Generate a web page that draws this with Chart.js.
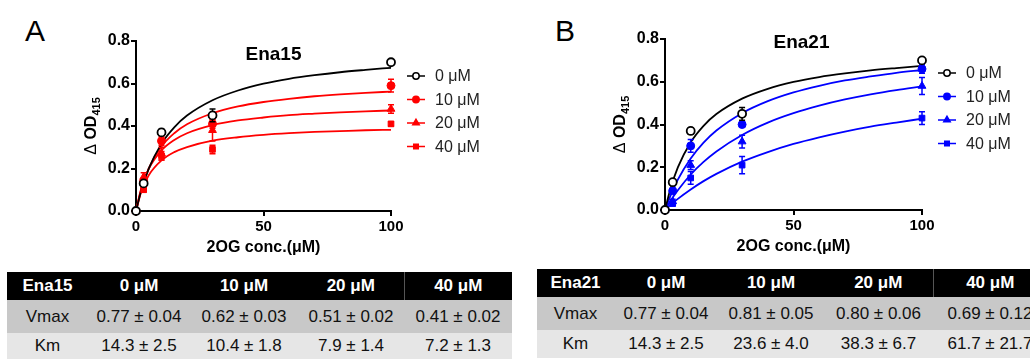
<!DOCTYPE html>
<html>
<head>
<meta charset="utf-8">
<script src="https://cdn.jsdelivr.net/npm/chart.js@4.4.1/dist/chart.umd.min.js"></script>
<style>
html, body { margin: 0; padding: 0; background: #fff; }
body { position: relative; width: 1030px; height: 359px; overflow: hidden; font-family: "Liberation Sans", Arial, sans-serif; }
.panel { position: absolute; top: 16px; font-size: 30px; line-height: 30px; color: #000; }
.box { position: absolute; top: 0; width: 515px; height: 262px; }
table { position: absolute; border-collapse: collapse; table-layout: fixed; font-size: 17px; }
th { background: #000; color: #fff; font-weight: bold; font-size: 17px; padding: 0; text-align: center; }
th + th.div { border-left: 1px solid #555; }
td { padding: 0; text-align: center; color: #111; }
tr.v td { background: #c8c8c8; }
tr.k td { background: #e6e6e6; }
</style>
</head>
<body>
<div class="panel" style="left:25px">A</div>
<div class="panel" style="left:555px">B</div>
<div class="box" style="left:0"><canvas id="chartA"></canvas></div>
<div class="box" style="left:515px"><canvas id="chartB"></canvas></div>
<table id="tabA" style="left:7px;top:272px;width:505px"></table>
<table id="tabB" style="left:537px;top:269px;width:510px"></table>

<script>
// ---- data ----
const concLabels = ['0 μM', '10 μM', '20 μM', '40 μM'];
const substrate = [0, 3, 10, 30, 100];            // 2OG conc. (μM)
const fitX = [0, 2, 5, 10, 15, 20, 30, 40, 50, 60, 70, 80, 90, 100];

// Ena15 measured points and error bars
const a0 = [0, 0.13, 0.37, 0.45, 0.70];
const a10 = [0, 0.14, 0.33, 0.41, 0.59];
const a20 = [0, 0.16, 0.27, 0.38, 0.48];
const a40 = [0, 0.10, 0.26, 0.29, 0.41];
const a0Err = [0, 0.01, 0.015, 0.03, 0.01];
const a10Err = [0, 0.01, 0.02, 0.02, 0.03];
const a20Err = [0, 0.02, 0.03, 0.05, 0.02];
const a40Err = [0, 0.01, 0.02, 0.02, 0.01];
// Ena15 fitted curves
const a0Fit = [0, 0.094, 0.199, 0.317, 0.394, 0.449, 0.521, 0.567, 0.599, 0.622, 0.639, 0.653, 0.664, 0.674];
const a10Fit = [0, 0.100, 0.201, 0.304, 0.366, 0.408, 0.460, 0.492, 0.513, 0.528, 0.540, 0.549, 0.556, 0.562];
const a20Fit = [0, 0.103, 0.198, 0.285, 0.334, 0.366, 0.404, 0.426, 0.440, 0.451, 0.458, 0.464, 0.469, 0.473];
const a40Fit = [0, 0.089, 0.168, 0.238, 0.277, 0.301, 0.331, 0.347, 0.358, 0.366, 0.372, 0.376, 0.380, 0.382];

// Ena21 measured points and error bars
const b0 = [0, 0.13, 0.37, 0.45, 0.70];
const b10 = [0, 0.09, 0.30, 0.40, 0.66];
const b20 = [0, 0.04, 0.21, 0.32, 0.58];
const b40 = [0, 0.03, 0.15, 0.21, 0.43];
const b0Err = [0, 0.01, 0.015, 0.03, 0.01];
const b10Err = [0, 0.01, 0.03, 0.01, 0.02];
const b20Err = [0, 0.01, 0.02, 0.03, 0.04];
const b40Err = [0, 0.01, 0.03, 0.04, 0.03];
// Ena21 fitted curves
const b0Fit = a0Fit;
const b10Fit = [0, 0.063, 0.142, 0.241, 0.315, 0.372, 0.453, 0.509, 0.550, 0.581, 0.606, 0.625, 0.642, 0.655];
const b20Fit = [0, 0.040, 0.092, 0.166, 0.225, 0.274, 0.351, 0.409, 0.453, 0.488, 0.517, 0.541, 0.561, 0.578];
const b40Fit = [0, 0.022, 0.052, 0.096, 0.135, 0.169, 0.226, 0.271, 0.309, 0.340, 0.367, 0.390, 0.409, 0.427];

// kinetic tables
const vmaxA = ['0.77 ± 0.04', '0.62 ± 0.03', '0.51 ± 0.02', '0.41 ± 0.02'];
const kmA = ['14.3 ± 2.5', '10.4 ± 1.8', '7.9 ± 1.4', '7.2 ± 1.3'];
const vmaxB = ['0.77 ± 0.04', '0.81 ± 0.05', '0.80 ± 0.06', '0.69 ± 0.12'];
const kmB = ['14.3 ± 2.5', '23.6 ± 4.0', '38.3 ± 6.7', '61.7 ± 21.7'];

const yTicks = [0, 0.2, 0.4, 0.6, 0.8];
const xTicks = [0, 50, 100];

const FONT = '"Liberation Sans", Arial, sans-serif';
const pointStyles = ['circle', 'circle', 'triangle', 'rect'];

const toXY = (xs, ys) => xs.map((x, i) => ({ x: x, y: ys[i] }));

// error bars, titles, y label with subscript, line+marker legend
const decor = {
  id: 'decor',
  beforeDatasetDraw(chart, args) {
    const ds = chart.data.datasets[args.index];
    if (!ds.err) return;
    const ctx = chart.ctx, ys = chart.scales.y;
    ctx.save();
    ctx.strokeStyle = ds.borderColor;
    ctx.lineWidth = 1.5;
    args.meta.data.forEach((pt, i) => {
      const e = ds.err[i];
      if (!e) return;
      const v = ds.data[i].y;
      const y1 = ys.getPixelForValue(v + e), y2 = ys.getPixelForValue(v - e);
      ctx.beginPath();
      ctx.moveTo(pt.x, y1); ctx.lineTo(pt.x, y2);
      ctx.moveTo(pt.x - 3, y1); ctx.lineTo(pt.x + 3, y1);
      ctx.moveTo(pt.x - 3, y2); ctx.lineTo(pt.x + 3, y2);
      ctx.stroke();
    });
    ctx.restore();
  },
  afterDraw(chart, args, o) {
    const ctx = chart.ctx, a = chart.chartArea;
    const cx = (a.left + a.right) / 2;
    ctx.save();
    ctx.fillStyle = '#000';
    ctx.textBaseline = 'middle';
    ctx.textAlign = 'center';
    ctx.font = 'bold 19px ' + FONT;
    ctx.fillText(o.title, cx + o.titleDx, a.top + o.titleDy);
    ctx.font = 'bold 16px ' + FONT;
    ctx.fillText('2OG conc.(μM)', cx, a.bottom + 37);

    // y axis title: Δ OD415
    ctx.save();
    ctx.translate(a.left - 45, (a.top + a.bottom) / 2);
    ctx.rotate(-Math.PI / 2);
    ctx.textAlign = 'left';
    ctx.textBaseline = 'alphabetic';
    const f1 = '16px ' + FONT, f2 = 'bold 16px ' + FONT, f3 = 'bold 11px ' + FONT;
    ctx.font = f1; const w1 = ctx.measureText('Δ ').width;
    ctx.font = f2; const w2 = ctx.measureText('OD').width;
    ctx.font = f3; const w3 = ctx.measureText('415').width;
    let x0 = -(w1 + w2 + w3) / 2;
    ctx.font = f1; ctx.fillText('Δ ', x0, 5);
    ctx.font = f2; ctx.fillText('OD', x0 + w1, 5);
    ctx.font = f3; ctx.fillText('415', x0 + w1 + w2, 9);
    ctx.restore();

    // legend
    let k = 0;
    chart.data.datasets.forEach(ds => {
      if (!ds.err) return;
      const ly = a.top + o.legendDy + k * 23.5;
      const lx = a.right + 16;
      ctx.strokeStyle = ds.borderColor;
      ctx.fillStyle = ds.backgroundColor;
      ctx.lineWidth = 1.5;
      ctx.beginPath(); ctx.moveTo(lx, ly); ctx.lineTo(lx + 18, ly); ctx.stroke();
      Chart.helpers.drawPoint(ctx, { pointStyle: ds.pointStyle, radius: ds.pointRadius - 0.8, rotation: 0, borderWidth: ds.pointBorderWidth || 1 }, lx + 9, ly);
      ctx.fillStyle = '#222';
      ctx.textAlign = 'left';
      ctx.textBaseline = 'middle';
      ctx.font = '16px ' + FONT;
      ctx.fillText(ds.label, a.right + 44, ly + 1);
      k++;
    });
    ctx.restore();
  }
};

function buildChart(id, color, points, errs, fits, o) {
  const datasets = [];
  const colors = ['#000', color, color, color];
  points.forEach((p, i) => {
    datasets.push({
      label: concLabels[i],
      data: toXY(substrate, p),
      err: errs[i],
      showLine: false,
      pointStyle: pointStyles[i],
      pointRadius: i === 2 ? 4.5 : 4,
      borderColor: colors[i],
      backgroundColor: i === 0 ? '#fff' : color,
      pointBorderWidth: i === 0 ? 1.8 : 1,
      clip: false,
      order: 0
    });
  });
  fits.forEach((f, i) => {
    datasets.push({
      label: 'fit ' + concLabels[i],
      data: toXY(fitX, f),
      showLine: true,
      pointRadius: 0,
      borderColor: colors[i],
      borderWidth: 1.8,
      cubicInterpolationMode: 'monotone',
      clip: false,
      order: 1
    });
  });
  return new Chart(document.getElementById(id), {
    type: 'scatter',
    data: { datasets: datasets },
    plugins: [decor],
    options: {
      responsive: true,
      maintainAspectRatio: false,
      animation: false,
      devicePixelRatio: 1,
      layout: { padding: { top: o.top, right: o.right, left: 0, bottom: 0 } },
      plugins: {
        legend: { display: false },
        tooltip: { enabled: false },
        decor: { title: o.title, titleDx: o.titleDx, titleDy: o.titleDy, legendDy: o.legendDy }
      },
      scales: {
        x: {
          type: 'linear', min: 0, max: 100,
          afterFit: s => { s.height = o.xh; },
          afterBuildTicks: s => { s.ticks = xTicks.map(v => ({ value: v })); },
          border: { display: true, color: '#000', width: 2 },
          grid: { drawOnChartArea: false, color: '#000', lineWidth: 2, tickLength: 5 },
          ticks: { color: '#000', padding: 2, maxRotation: 0, font: { family: FONT, size: 15, weight: 'bold' } }
        },
        y: {
          type: 'linear', min: 0, max: 0.8,
          afterFit: s => { s.width = o.yw; },
          afterBuildTicks: s => { s.ticks = yTicks.map(v => ({ value: v })); },
          border: { display: true, color: '#000', width: 2 },
          grid: { drawOnChartArea: false, color: '#000', lineWidth: 2, tickLength: 5 },
          ticks: { color: '#000', padding: 1, font: { family: FONT, size: 16, weight: 'bold' }, callback: v => v.toFixed(1) }
        }
      }
    }
  });
}

buildChart('chartA', '#ff0000',
  [a0, a10, a20, a40], [a0Err, a10Err, a20Err, a40Err], [a0Fit, a10Fit, a20Fit, a40Fit],
  { top: 41, right: 124, yw: 136, xh: 51, title: 'Ena15', titleDx: 10, titleDy: 14, legendDy: 35 });

buildChart('chartB', '#0000ff',
  [b0, b10, b20, b40], [b0Err, b10Err, b20Err, b40Err], [b0Fit, b10Fit, b20Fit, b40Fit],
  { top: 39, right: 108, yw: 150, xh: 52, title: 'Ena21', titleDx: 8, titleDy: 4, legendDy: 34 });

function buildTable(id, name, vmax, km, widths, heights) {
  const t = document.getElementById(id);
  const cg = document.createElement('colgroup');
  widths.forEach(w => { const c = document.createElement('col'); c.style.width = w + 'px'; cg.appendChild(c); });
  t.appendChild(cg);
  const h = t.insertRow(); h.style.height = heights[0] + 'px';
  [name].concat(concLabels).forEach((s, i) => {
    const th = document.createElement('th'); th.textContent = s;
    if (i === 4) th.className = 'div';
    h.appendChild(th);
  });
  [['Vmax', vmax, 'v'], ['Km', km, 'k']].forEach((r, j) => {
    const tr = t.insertRow(); tr.className = r[2]; tr.style.height = heights[j + 1] + 'px';
    [r[0]].concat(r[1]).forEach(s => { const td = tr.insertCell(); td.textContent = s; });
  });
}

buildTable('tabA', 'Ena15', vmaxA, kmA, [81, 102, 108, 106, 108], [28, 33, 26]);
buildTable('tabB', 'Ena21', vmaxB, kmB, [77, 104, 106, 109, 114], [28, 33, 28]);
</script>
</body>
</html>
